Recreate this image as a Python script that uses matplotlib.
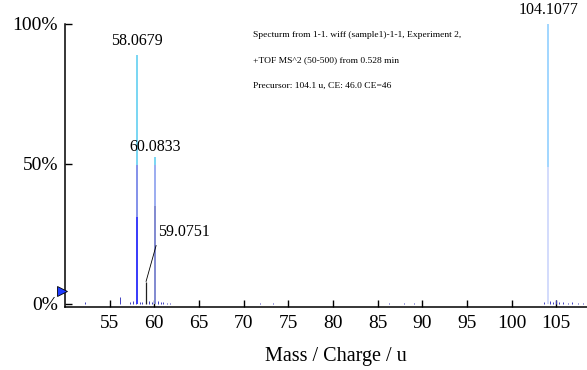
import matplotlib
matplotlib.use("Agg")
import matplotlib.pyplot as plt

plt.rcParams['font.family'] = ['Liberation Serif', 'DejaVu Serif']

# main peaks: m/z and relative intensity (%) for the three overlaid layers
peak_mz = [58.0679, 60.0833, 104.1077]
top_layer = [89.0, 52.5, 100.0]      # light blue
mid_layer = [49.5, 49.5, 49.0]       # purple / lavender
low_layer = [31.0, 35.0, 0.0]        # dark blue
peak_labels = ["58.0679", "60.0833", "104.1077"]

# minor fragment
minor_mz = 59.0751
minor_int = 8.0

# small noise peaks
noise_mz = [52.2, 56.15, 57.3, 57.6, 57.9, 58.35, 58.6, 59.35, 59.7, 60.4, 60.7,
            61.0, 61.4, 61.8, 71.8, 73.3, 86.3, 88.0, 89.1, 103.6, 104.35, 104.6,
            105.0, 105.3, 105.8, 106.3, 106.8, 107.4, 108.0]
noise_int = [0.6, 2.5, 0.7, 0.9, 1.0, 0.8, 0.7, 1.0, 0.8, 1.0, 0.7,
             0.6, 0.5, 0.5, 0.4, 0.4, 0.5, 0.5, 0.4, 0.6, 1.0, 0.8,
             1.5, 0.7, 0.6, 0.5, 0.6, 0.5, 0.5]

info_lines = ["Specturm from 1-1. wiff (sample1)-1-1, Experiment 2,",
              "+TOF MS^2 (50-500) from 0.528 min",
              "Precursor: 104.1 u, CE: 46.0 CE=46"]

xticks = [55, 60, 65, 70, 75, 80, 85, 90, 95, 100, 105]
yticks = [0, 50, 100]
ytick_labels = ["0%", "50%", "100%"]

fig = plt.figure(figsize=(5.87, 3.70), dpi=100)
ax = fig.add_axes([65 / 587, 63 / 370, 522 / 587, 283 / 370])

ax.vlines(noise_mz, 0, noise_int, colors="#4040c0", lw=0.7)
ax.vlines(peak_mz, 0, top_layer, colors=["#55ccf0", "#55ccf0", "#88ccff"], lw=1.1)
ax.vlines(peak_mz, 0, mid_layer, colors=["#8a7fe8", "#a8a2f0", "#e4defc"], lw=1.1)
ax.vlines(peak_mz[:2], 0, low_layer[:2], colors=["#2626ff", "#7c82c8"], lw=1.1)
ax.vlines([minor_mz], 0, [minor_int], colors="#202020", lw=0.9)

label_gap = [2.2, 0.6, 2.0]
for mz, h, lab, gap in zip(peak_mz, top_layer, peak_labels, label_gap):
    ax.text(mz, h + gap, lab, ha="center", va="bottom", fontsize=11.5)

ax.annotate("59.0751", xy=(minor_mz, minor_int), xytext=(60.4, 25.7),
            fontsize=11.5, ha="left", va="center",
            arrowprops=dict(arrowstyle="-", lw=0.6, color="black",
                            shrinkA=2, shrinkB=0, relpos=(0.0, 0.05)))

for i, line in enumerate(info_lines):
    fig.text(253 / 587, 1 - (35 + 25.5 * i) / 370, line, fontsize=6.8,
             ha="left", va="center")

# threshold marker on the y axis
ax.plot([49.65], [4.6], marker=">", ms=7, color="#1f3cff", mec="black",
        mew=0.6, clip_on=False, zorder=5)

ax.set_xlim(50, 108.45)
ax.set_ylim(-1.1, 100)
ax.set_xticks(xticks)
ax.set_yticks(yticks)
ax.set_yticklabels(ytick_labels)
ax.tick_params(direction="in", length=5, width=1, labelsize=14, pad=5)
ax.tick_params(axis="x", pad=6)
for side in ["top", "right"]:
    ax.spines[side].set_visible(False)
for side in ["left", "bottom"]:
    ax.spines[side].set_linewidth(1.1)

fig.text(336 / 587, 1 - 357 / 370, "Mass / Charge / u", ha="center",
         va="center", fontsize=14.5)

fig.savefig("out.png", dpi=100)
